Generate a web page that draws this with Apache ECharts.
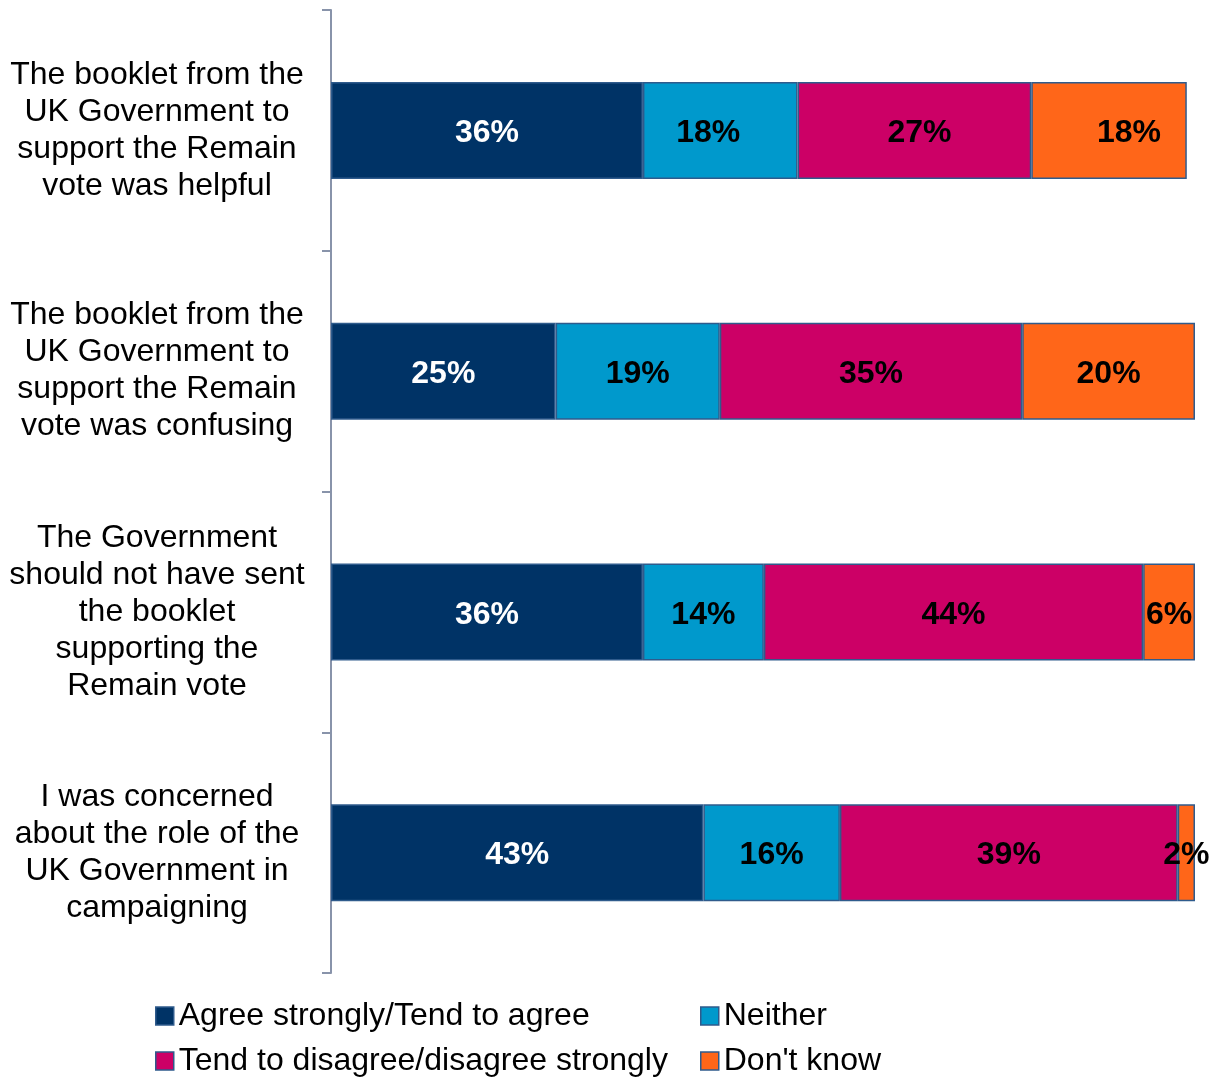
<!DOCTYPE html>
<html>
<head>
<meta charset="utf-8">
<script src="https://cdn.jsdelivr.net/npm/echarts@6/dist/echarts.min.js"></script>
<style>html,body{margin:0;padding:0;background:#fff}#c{width:1222px;height:1077px}</style>
</head>
<body>
<div id="c"></div>
<script>
var categories = [
  "The booklet from the\nUK Government to\nsupport the Remain\nvote was helpful",
  "The booklet from the\nUK Government to\nsupport the Remain\nvote was confusing",
  "The Government\nshould not have sent\nthe booklet\nsupporting the\nRemain vote",
  "I was concerned\nabout the role of the\nUK Government in\ncampaigning"
];
var seriesNames = ["Agree strongly/Tend to agree", "Neither", "Tend to disagree/disagree strongly", "Don't know"];
var agree = [36.1, 26.0, 36.1, 43.1];
var neither = [17.9, 19.0, 14.0, 15.8];
var disagree = [27.05, 35.0, 43.9, 39.1];
var dontKnow = [18.0, 20.0, 6.0, 2.0];
var agreeLabels = ["36%", "25%", "36%", "43%"];
var neitherLabels = ["18%", "19%", "14%", "16%"];
var disagreeLabels = ["27%", "35%", "44%", "39%"];
var dontKnowLabels = ["18%", "20%", "6%", "2%"];
var colors = ["#003366", "#0099CC", "#CC0066", "#FF6619"];

// horizontal label nudges (px) per series / category, as in the original
var labelNudge = [[0, 0, 0, 0], [-12, 0, 0, 0], [5, 0, 0, 0], [20, 0, 0, 0]];

var values = [agree, neither, disagree, dontKnow];
var labels = [agreeLabels, neitherLabels, disagreeLabels, dontKnowLabels];
var FONT = "Liberation Sans, Arial, sans-serif";

var series = values.map(function (vals, i) {
  return {
    name: seriesNames[i],
    type: 'bar',
    stack: 'total',
    barWidth: 97,
    data: vals.map(function (v, j) {
      return { value: v, label: { offset: [labelNudge[i][j], 3] } };
    }),
    itemStyle: { color: colors[i], borderColor: '#2F5B8C', borderWidth: 1.5 },
    label: {
      show: true,
      position: 'inside',
      fontFamily: FONT,
      fontWeight: 'bold',
      fontSize: 32,
      color: i === 0 ? '#ffffff' : '#000000',
      formatter: function (p) { return labels[i][p.dataIndex]; }
    },
    emphasis: { disabled: true }
  };
});

var legendPos = [[155, 1000], [700, 1000], [155, 1045], [700, 1045]];
var legends = seriesNames.map(function (n, i) {
  return {
    data: [{ name: n, itemStyle: { borderColor: '#2F5B8C', borderWidth: 1.5 } }],
    left: legendPos[i][0],
    top: legendPos[i][1],
    padding: 0,
    icon: 'rect',
    itemWidth: 18,
    itemHeight: 18,
    itemGap: 0,
    selectedMode: false,
    textStyle: { fontFamily: FONT, fontSize: 32, color: '#000' }
  };
});

var chart = echarts.init(document.getElementById('c'), null, { renderer: 'canvas' });
chart.setOption({
  animation: false,
  color: colors,
  grid: { left: 331, right: 27, top: 10, bottom: 104, containLabel: false },
  xAxis: { type: 'value', min: 0, max: 100, show: false },
  yAxis: {
    type: 'category',
    inverse: true,
    data: categories,
    axisLine: { show: true, lineStyle: { color: '#8893AA', width: 2 } },
    axisTick: { show: true, length: 9, lineStyle: { color: '#8893AA', width: 2 } },
    axisLabel: {
      margin: 174,
      align: 'center',
      fontFamily: FONT,
      fontSize: 32,
      lineHeight: 37,
      padding: [10, 0, 0, 0],
      color: '#000'
    }
  },
  legend: legends,
  series: series
});
</script>
</body>
</html>
